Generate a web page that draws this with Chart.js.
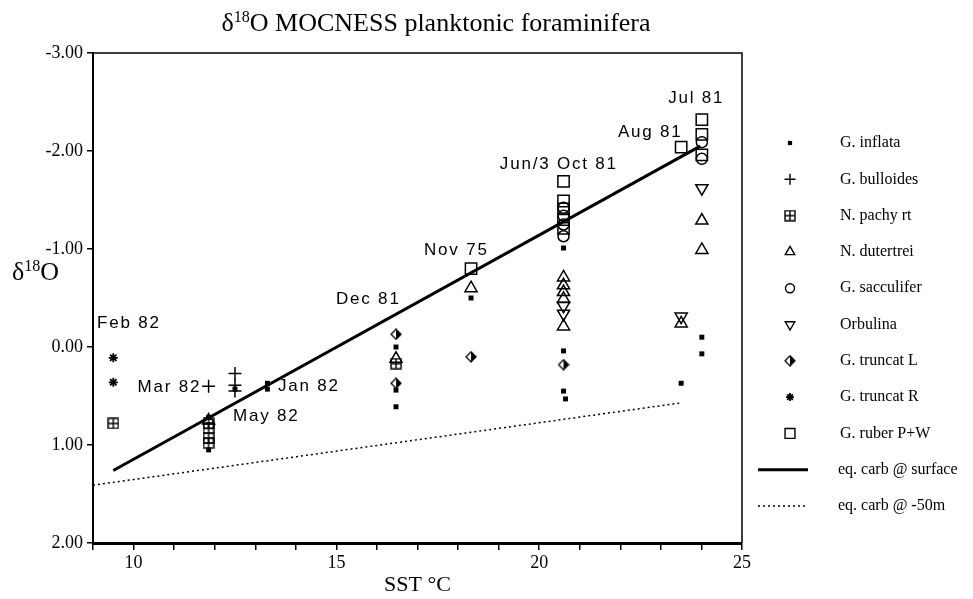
<!DOCTYPE html>
<html>
<head>
<meta charset="utf-8">
<script src="https://cdn.jsdelivr.net/npm/chart.js@4/dist/chart.umd.min.js"></script>
<style>
  html, body { margin: 0; padding: 0; background: #fff; }
  #wrap { width: 973px; height: 599px; }
</style>
</head>
<body>
<div id="wrap"><canvas id="c" width="973" height="599"></canvas></div>
<script>
// SST (°C) vs d18O for each species
const gInflata    = [[11.85, 0.72], [11.85, 1.05], [12.5, 0.43], [13.3, 0.37], [13.3, 0.43],
                     [16.47, 0.0], [16.47, 0.44], [16.47, 0.61], [18.32, -0.50], [20.6, -1.01],
                     [20.6, 0.04], [20.6, 0.45], [20.65, 0.53], [23.5, 0.37], [24.01, -0.10], [24.01, 0.07]];
const gBulloides  = [[11.85, 0.40], [12.5, 0.27], [12.5, 0.39], [12.5, 0.45]];
const nPachy      = [[9.5, 0.78], [11.85, 0.78], [11.85, 0.83], [11.85, 0.93], [11.85, 0.98], [16.47, 0.17]];
const nDutertrei  = [[11.85, 0.75], [16.47, 0.12], [18.32, -0.60], [20.6, -0.71], [20.6, -0.63],
                     [20.6, -0.56], [20.6, -0.49], [20.6, -0.21], [23.5, -0.24], [24.01, -1.29], [24.01, -0.99]];
const gSacculifer = [[20.6, -1.42], [20.6, -1.34], [20.6, -1.25], [20.6, -1.13], [24.01, -2.09], [24.01, -1.92]];
const orbulina    = [[20.6, -0.42], [20.6, -0.34], [23.5, -0.31], [24.01, -1.62]];
const gTruncatL   = [[16.47, -0.13], [16.47, 0.37], [18.32, 0.10], [20.6, 0.18]];
const gTruncatR   = [[9.5, 0.11], [9.5, 0.36]];
const gRuber      = [[18.32, -0.80], [20.6, -1.69], [20.6, -1.49], [20.6, -1.41], [20.6, -1.30], [20.6, -1.21],
                     [23.5, -2.04], [24.01, -2.32], [24.01, -2.17], [24.01, -1.96]];

// equilibrium calcite lines
const eqSurface = [[9.5, 1.26], [23.97, -2.05]];
const eq50m     = [[9.0, 1.41], [23.5, 0.57]];

// sample month labels (x, y in data units, left edge of text)
const monthLabels = [
  ['Feb 82', 9.1, -0.24], ['Mar 82', 10.1, 0.41], ['May 82', 12.45, 0.71], ['Jan 82', 13.56, 0.40],
  ['Dec 81', 14.99, -0.49], ['Nov 75', 17.16, -0.99], ['Jun/3 Oct 81', 19.03, -1.86],
  ['Aug 81', 21.94, -2.19], ['Jul 81', 23.18, -2.54],
];

const X_TICKS = [10, 15, 20, 25];

const SERIF = '"Liberation Serif", "Times New Roman", serif';
const SANS  = '"Liberation Sans", Arial, sans-serif';

// custom marker shapes
function crossedSquare() {
  const c = document.createElement('canvas');
  c.width = 12; c.height = 12;
  const g = c.getContext('2d');
  g.strokeStyle = '#000'; g.lineWidth = 1.4;
  g.strokeRect(1, 1, 10, 10);
  g.beginPath();
  g.moveTo(6, 1); g.lineTo(6, 11);
  g.moveTo(1, 6); g.lineTo(11, 6);
  g.stroke();
  return c;
}

function halfDiamond() {
  const c = document.createElement('canvas');
  c.width = 12; c.height = 12;
  const g = c.getContext('2d');
  g.beginPath();
  g.moveTo(6, 1); g.lineTo(11, 6); g.lineTo(6, 11); g.closePath();
  g.fillStyle = '#000'; g.fill();
  g.beginPath();
  g.moveTo(6, 1); g.lineTo(11, 6); g.lineTo(6, 11); g.lineTo(1, 6); g.closePath();
  g.strokeStyle = '#000'; g.lineWidth = 1.3; g.stroke();
  return c;
}

const pachyImg = crossedSquare();
const diamondImg = halfDiamond();

const pts = (arr) => arr.map(([x, y]) => ({ x, y }));

function scatter(label, data, style, radius, extra) {
  return Object.assign({
    type: 'scatter',
    label,
    data: pts(data),
    pointStyle: style,
    pointRadius: radius,
    pointHoverRadius: radius,
    borderColor: '#000',
    backgroundColor: 'rgba(0,0,0,0)',
    borderWidth: 1.5,
    pointBorderWidth: 1.5,
  }, extra || {});
}

function eqLine(label, data, width, dash) {
  return {
    type: 'line',
    label,
    data: pts(data),
    borderColor: '#000',
    borderWidth: width,
    borderDash: dash,
    pointRadius: 0,
    fill: false,
    tension: 0,
  };
}

const datasets = [
  eqLine('eq. carb @ surface', eqSurface, 3, []),
  eqLine('eq. carb @ -50m', eq50m, 1.5, [2, 3]),
  scatter('G. inflata', gInflata, 'rect', 3.5, { backgroundColor: '#000', pointBorderWidth: 0 }),
  scatter('G. bulloides', gBulloides, 'cross', 6.5),
  scatter('N. pachy rt', nPachy, pachyImg, 6),
  scatter('N. dutertrei', nDutertrei, 'triangle', 7),
  scatter('G. sacculifer', gSacculifer, 'circle', 5.5),
  scatter('Orbulina', orbulina, 'triangle', 7, { pointRotation: 180 }),
  scatter('G. truncat L', gTruncatL, diamondImg, 6),
  scatter('G. truncat R', gTruncatR, 'star', 4.5, { pointBorderWidth: 1.8 }),
  scatter('G. ruber P+W', gRuber, 'rect', 8),
];

// legend marker sizes (drawn a bit smaller than in the plot)
const legendMarks = [
  { pointStyle: 'rect', radius: 3, fill: true },
  { pointStyle: 'cross', radius: 5.5 },
  { pointStyle: pachyImg, radius: 6 },
  { pointStyle: 'triangle', radius: 5.5 },
  { pointStyle: 'circle', radius: 4.5 },
  { pointStyle: 'triangle', radius: 5.5, rotation: 180 },
  { pointStyle: diamondImg, radius: 6 },
  { pointStyle: 'star', radius: 4 },
  { pointStyle: 'rect', radius: 7 },
];

function drawSupText(ctx, parts, x, y, size, align) {
  // parts: [text, isSuperscript]
  const widths = parts.map(([t, sup]) => {
    ctx.font = (sup ? size * 0.62 : size) + 'px ' + SERIF;
    return ctx.measureText(t).width;
  });
  const total = widths.reduce((a, b) => a + b, 0);
  let cx = align === 'center' ? x - total / 2 : x;
  ctx.textAlign = 'left';
  ctx.textBaseline = 'alphabetic';
  parts.forEach(([t, sup], i) => {
    ctx.font = (sup ? size * 0.62 : size) + 'px ' + SERIF;
    ctx.fillText(t, cx, sup ? y - size * 0.36 : y);
    cx += widths[i];
  });
}

const decor = {
  id: 'decor',
  afterDraw(chart) {
    const { ctx, chartArea: a, scales } = chart;
    ctx.save();
    ctx.fillStyle = '#000';
    ctx.strokeStyle = '#000';

    // frame top + right
    ctx.lineWidth = 1.5;
    ctx.beginPath();
    ctx.moveTo(a.left, a.top); ctx.lineTo(a.right, a.top); ctx.lineTo(a.right, a.bottom);
    ctx.stroke();

    // title and axis titles
    drawSupText(ctx, [['δ', false], ['18', true], ['O MOCNESS planktonic foraminifera', false]], 436, 31, 26, 'center');
    drawSupText(ctx, [['δ', false], ['18', true], ['O', false]], 12, 280, 26, 'left');
    ctx.font = '22px ' + SERIF;
    ctx.textAlign = 'center';
    ctx.fillText('SST °C', (a.left + a.right) / 2, 591);

    // month labels
    ctx.font = '17px ' + SANS;
    ctx.letterSpacing = '1.8px';
    ctx.textAlign = 'left';
    ctx.textBaseline = 'middle';
    monthLabels.forEach(([t, x, y]) => {
      ctx.fillText(t, scales.x.getPixelForValue(x), scales.y.getPixelForValue(y));
    });
    ctx.letterSpacing = '0px';

    // legend
    const mx = 790, tx = 840, y0 = 143, dy = 36.3;
    const dsets = chart.data.datasets.slice(2);
    dsets.forEach((ds, i) => {
      const y = y0 + i * dy;
      const m = legendMarks[i];
      ctx.lineWidth = m.pointStyle === 'star' ? 1.8 : 1.4;
      ctx.fillStyle = m.fill ? '#000' : 'rgba(0,0,0,0)';
      Chart.helpers.drawPoint(ctx, { pointStyle: m.pointStyle, radius: m.radius, rotation: m.rotation || 0, borderWidth: m.fill ? 0 : 1.4 }, mx, y);
      ctx.fillStyle = '#000';
      ctx.font = '16px ' + SERIF;
      ctx.textAlign = 'left';
      ctx.textBaseline = 'middle';
      ctx.fillText(ds.label, tx, y);
    });
    const lineRows = chart.data.datasets.slice(0, 2);
    lineRows.forEach((ds, i) => {
      const y = y0 + (dsets.length + i) * dy;
      ctx.lineWidth = ds.borderWidth;
      ctx.setLineDash(ds.borderDash);
      ctx.beginPath();
      ctx.moveTo(758, y); ctx.lineTo(808, y);
      ctx.stroke();
      ctx.setLineDash([]);
      ctx.font = '16px ' + SERIF;
      ctx.fillText(ds.label, 838, y);
    });
    ctx.restore();
  },
};

new Chart(document.getElementById('c'), {
  data: { datasets },
  options: {
    responsive: false,
    animation: false,
    events: [],
    layout: { padding: { top: 53, right: 231, left: 0, bottom: 0 } },
    plugins: { legend: { display: false }, tooltip: { enabled: false }, title: { display: false } },
    scales: {
      x: {
        type: 'linear',
        position: 'bottom',
        min: 9, max: 25,
        afterBuildTicks: (s) => {
          s.ticks = [];
          for (let v = 9; v <= 25; v++) s.ticks.push({ value: v });
        },
        afterFit: (s) => { s.height = 56; },
        ticks: {
          autoSkip: false,
          maxRotation: 0,
          color: '#000',
          font: { family: SERIF, size: 18 },
          padding: 2,
          callback: (v) => (X_TICKS.includes(v) ? String(v) : ''),
        },
        grid: { drawOnChartArea: false, drawTicks: true, tickLength: 7, color: '#000', lineWidth: 1.5 },
        border: { display: true, color: '#000', width: 3 },
      },
      y: {
        type: 'linear',
        min: -3, max: 2,
        reverse: true,
        afterFit: (s) => { s.width = 93; },
        ticks: {
          stepSize: 1,
          color: '#000',
          font: { family: SERIF, size: 18 },
          padding: 4,
          callback: (v) => Number(v).toFixed(2),
        },
        grid: { drawOnChartArea: false, drawTicks: true, tickLength: 6, color: '#000', lineWidth: 1.5 },
        border: { display: true, color: '#000', width: 2 },
      },
    },
  },
  plugins: [decor],
});
</script>
</body>
</html>
